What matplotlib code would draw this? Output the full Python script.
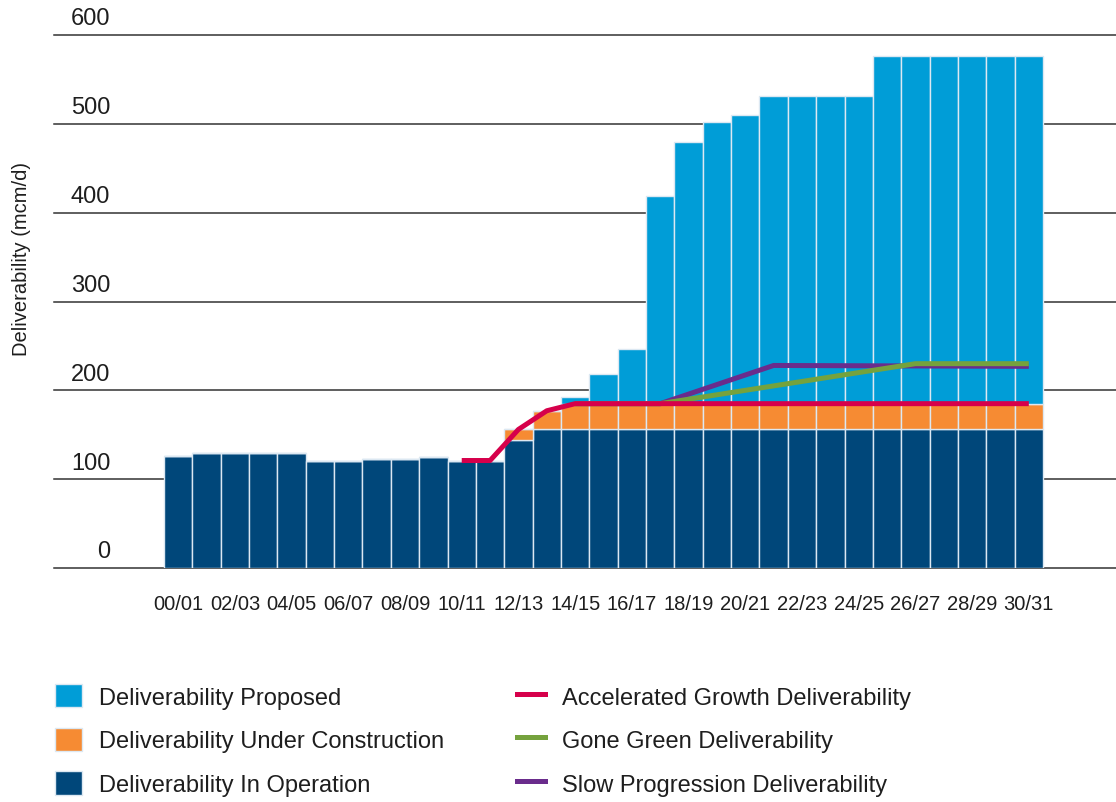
import matplotlib
matplotlib.use('Agg')
import matplotlib.pyplot as plt
from matplotlib.patches import Patch
from matplotlib.lines import Line2D

plt.rcParams['font.family'] = ['Liberation Sans', 'DejaVu Sans']

# Gas years
years = ['00/01', '01/02', '02/03', '03/04', '04/05', '05/06', '06/07', '07/08',
         '08/09', '09/10', '10/11', '11/12', '12/13', '13/14', '14/15', '15/16',
         '16/17', '17/18', '18/19', '19/20', '20/21', '21/22', '22/23', '23/24',
         '24/25', '25/26', '26/27', '27/28', '28/29', '29/30', '30/31']

# stacked bar components (mcm/d)
in_operation = [126, 129, 129, 129, 129, 121, 121, 123, 123, 125, 121, 121, 144, 156,
                157, 157, 157, 157, 157, 157, 157, 157, 157, 157, 157, 157, 157, 157,
                157, 157, 157]
under_construction = [0, 0, 0, 0, 0, 0, 0, 0, 0, 0, 0, 0, 12, 21,
                      28, 28, 28, 28, 28, 28, 28, 28, 28, 28, 28, 28, 28, 28,
                      28, 28, 28]
proposed = [0, 0, 0, 0, 0, 0, 0, 0, 0, 0, 0, 0, 0, 0,
            7, 33, 61, 234, 294, 317, 325, 346, 346, 346, 346, 391, 391, 391,
            391, 391, 391]

# scenario lines (year, value)
accel_years = ['10/11', '11/12', '12/13', '13/14', '14/15', '30/31']
accel_vals = [121, 121, 156, 177, 185, 185]
green_years = ['14/15', '17/18', '26/27', '30/31']
green_vals = [185, 185, 230, 230]
slow_years = ['14/15', '17/18', '21/22', '30/31']
slow_vals = [185, 185, 228, 227]

yticks = [0, 100, 200, 300, 400, 500, 600]

c_oper = '#00477a'
c_cons = '#f68b33'
c_prop = '#009dd7'
c_accel = '#d6004b'
c_green = '#75a23d'
c_slow = '#6a2c8c'
txt = '#1e1e1e'

fig = plt.figure(figsize=(11.16, 8.03), dpi=100)
ax = fig.add_axes([54 / 1116, (803 - 569) / 803, 1 - 54 / 1116, (569 - 36) / 803])

x = list(range(len(years)))
base2 = [a + b for a, b in zip(in_operation, under_construction)]
bar_kw = dict(width=1.0, edgecolor='#dce8f2', linewidth=1.0, zorder=2)
ax.bar(x, in_operation, color=c_oper, **bar_kw)
ax.bar(x, under_construction, bottom=in_operation, color=c_cons, **bar_kw)
ax.bar(x, proposed, bottom=base2, color=c_prop, **bar_kw)


def pos(lbls):
    return [years.index(l) for l in lbls]


lw = 3.6
ax.plot(pos(slow_years), slow_vals, color=c_slow, lw=lw, zorder=3, solid_capstyle='butt')
ax.plot(pos(green_years), green_vals, color=c_green, lw=lw, zorder=4, solid_capstyle='butt')
ax.plot(pos(accel_years), accel_vals, color=c_accel, lw=lw, zorder=5, solid_capstyle='butt')

# gridlines with labels sitting above them
for t in yticks:
    ax.axhline(t, color='#333333', lw=1.1, zorder=1, clip_on=False)
    ax.annotate(str(t), xy=(0, t), xycoords=('axes fraction', 'data'),
                xytext=(40.5, 4), textcoords='offset points', ha='right', va='bottom',
                fontsize=17, color=txt)

ax.set_xlim(-0.5 - (164 - 54) / 28.35, 30.5 + (1116 - 1043) / 28.35)
ax.set_ylim(0, 600)
for s in ax.spines.values():
    s.set_visible(False)
ax.set_yticks([])
ax.set_xticks(x[::2])
ax.set_xticklabels(years[::2], fontsize=14.5, color=txt)
ax.tick_params(axis='x', length=0, pad=19)

fig.text(22 / 1116, 1 - 259 / 803, 'Deliverability (mcm/d)', rotation=90,
         ha='center', va='center', fontsize=14.5, color=txt)

# legend
h1 = [Patch(facecolor=c_prop, edgecolor='#dce8f2'),
      Patch(facecolor=c_cons, edgecolor='#dce8f2'),
      Patch(facecolor=c_oper, edgecolor='#dce8f2')]
l1 = ['Deliverability Proposed', 'Deliverability Under Construction',
      'Deliverability In Operation']
h2 = [Line2D([], [], color=c_accel, lw=lw),
      Line2D([], [], color=c_green, lw=lw),
      Line2D([], [], color=c_slow, lw=lw)]
l2 = ['Accelerated Growth Deliverability', 'Gone Green Deliverability',
      'Slow Progression Deliverability']
leg_kw = dict(frameon=False, fontsize=17, labelspacing=0.8, handletextpad=0.7,
              borderaxespad=0, borderpad=0, labelcolor=txt, handleheight=1.15)
fig.legend(h1, l1, loc='upper left', bbox_to_anchor=(55 / 1116, 1 - 685 / 803),
           handlelength=1.15, **leg_kw)
fig.legend(h2, l2, loc='upper left', bbox_to_anchor=(517 / 1116, 1 - 685 / 803),
           handlelength=1.2, **leg_kw)

fig.savefig('out.png', dpi=100)
